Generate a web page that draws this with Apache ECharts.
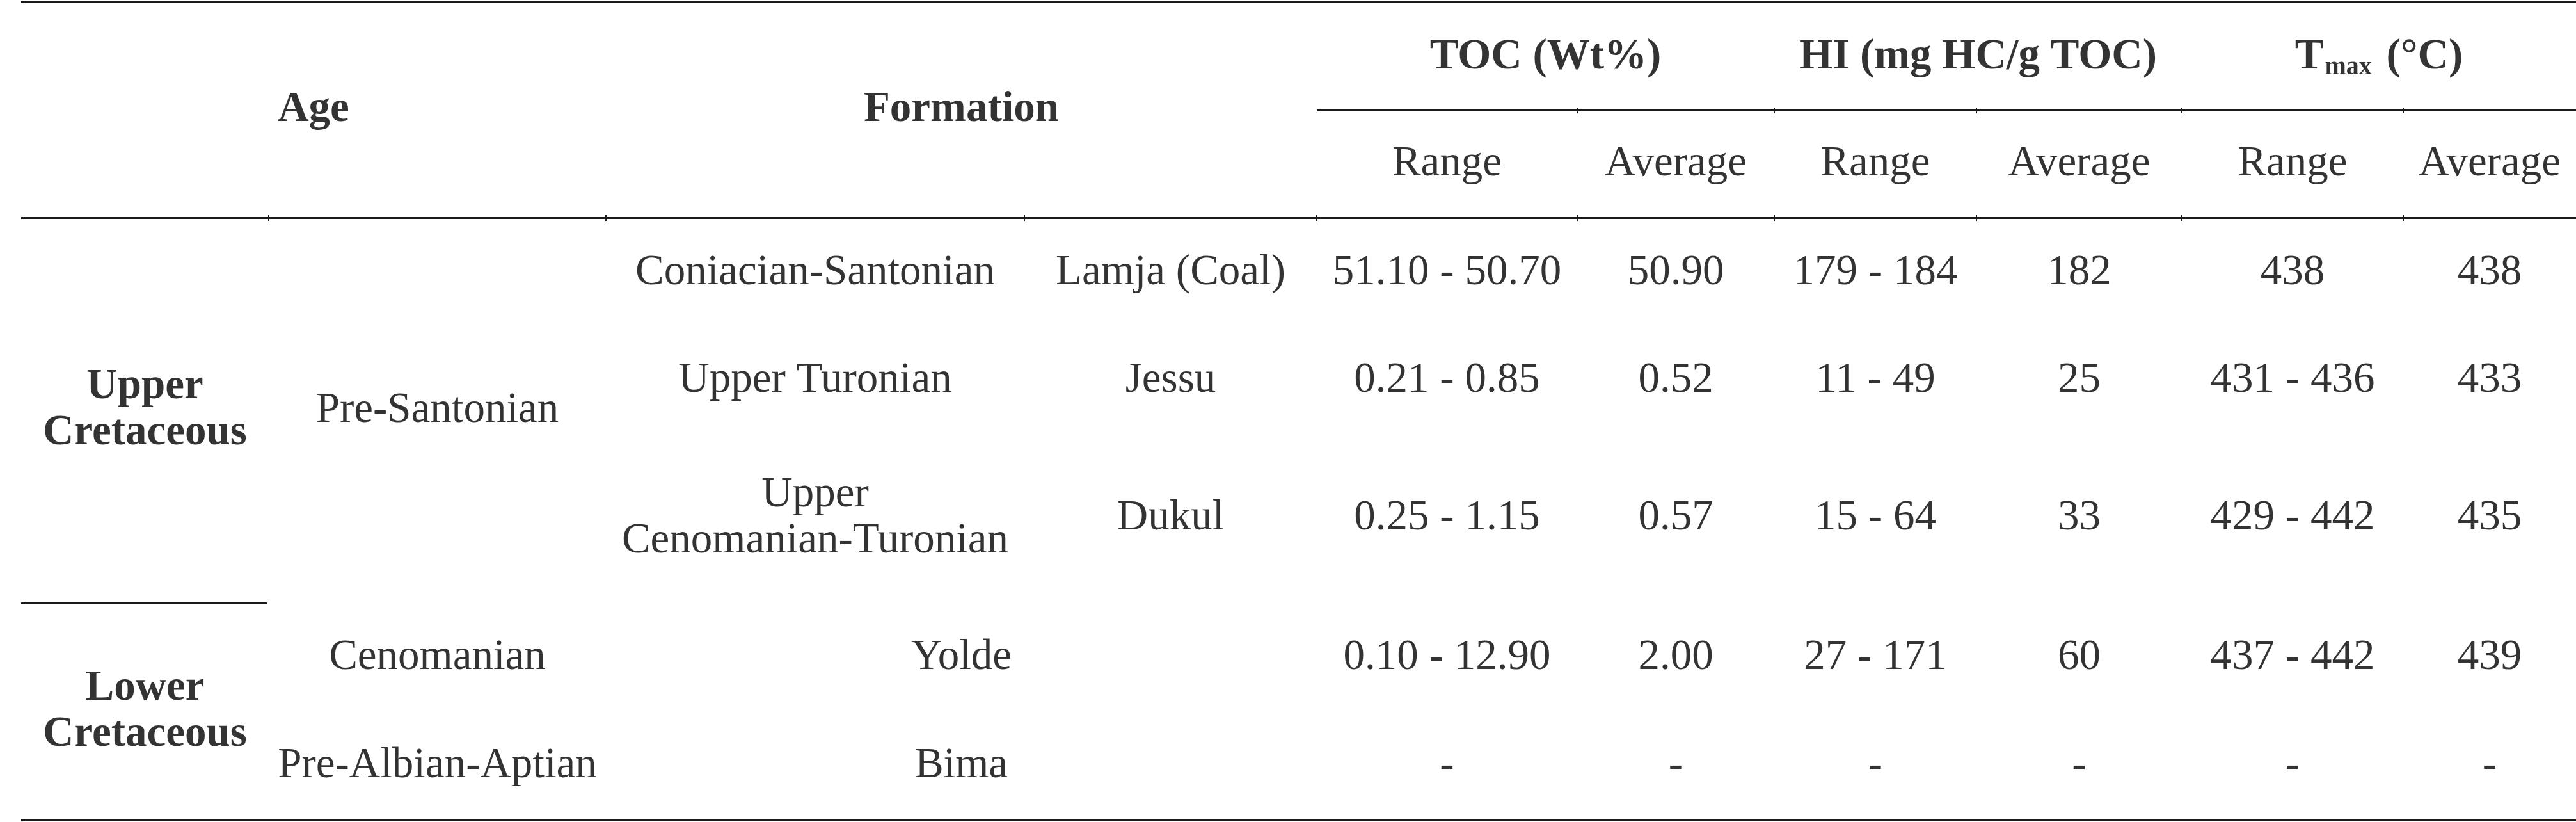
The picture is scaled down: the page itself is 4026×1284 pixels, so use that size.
<!DOCTYPE html>
<html>
<head>
<meta charset="utf-8">
<title>TOC, HI and Tmax by formation</title>
<script src="https://cdn.jsdelivr.net/npm/echarts@6/dist/echarts.min.js"></script>
<style>
    html, body { margin: 0; padding: 0; background: #fff; }
    #main { width: 4026px; height: 1284px; }
</style>
</head>
<body>
<div id="main"></div>
<script>
// table content
var ageLabels = ['Upper\nCretaceous', 'Lower\nCretaceous'];
var periods = ['Pre-Santonian', 'Cenomanian', 'Pre-Albian-Aptian'];
var stages = ['Coniacian-Santonian', 'Upper Turonian', 'Upper\nCenomanian-Turonian'];
var formations = ['Lamja (Coal)', 'Jessu', 'Dukul', 'Yolde', 'Bima'];
var tocRange = ['51.10 - 50.70', '0.21 - 0.85', '0.25 - 1.15', '0.10 - 12.90', '-'];
var tocAvg = ['50.90', '0.52', '0.57', '2.00', '-'];
var hiRange = ['179 - 184', '11 - 49', '15 - 64', '27 - 171', '-'];
var hiAvg = ['182', '25', '33', '60', '-'];
var tmaxRange = ['438', '431 - 436', '429 - 442', '437 - 442', '-'];
var tmaxAvg = ['438', '433', '435', '439', '-'];
var mainHeaders = ['Age', 'Formation'];
var groupHeaders = ['TOC (Wt%)', 'HI (mg HC/g TOC)', 'Tmax'];
var subHeaders = ['Range', 'Average'];

// layout (pixels of the page)
var W = 4026, H = 1284;
var colEdges = [33, 420, 947, 1601, 2058, 2465, 2773, 3089, 3410, 3756, 4026];
var rowEdges = [340, 512, 677, 942, 1112, 1281];
var topY = 3, midY = 172, headY = 340, sepY = 942, bottomY = 1281;

var fontFamily = "'Liberation Serif', 'Times New Roman', 'DejaVu Serif', serif";
var fontSize = 67;

function colMid(a, b) { return (colEdges[a] + colEdges[b + 1]) / 2; }
function rowMid(a, b) { return (rowEdges[a] + rowEdges[b + 1]) / 2; }

function cell(text, x, y, bold) {
    return {
        value: [x, y],
        name: text,
        label: { fontWeight: bold ? 'bold' : 'normal' }
    };
}

var cells = [];
// header
cells.push(cell(mainHeaders[0], colMid(0, 1), (topY + headY) / 2, true));
cells.push(cell(mainHeaders[1], colMid(2, 3), (topY + headY) / 2, true));
for (var g = 0; g < groupHeaders.length; g++) {
    var c0 = 4 + g * 2;
    var item = cell(groupHeaders[g], colMid(c0, c0 + 1), (topY + midY) / 2 + 2, true);
    if (g === 2) {
        item.label.formatter = '{t|T}{s|max}{t| (°C)}';
    }
    cells.push(item);
    for (var s = 0; s < subHeaders.length; s++) {
        cells.push(cell(subHeaders[s], colMid(c0 + s, c0 + s), (midY + headY) / 2, false));
    }
}
// age column
cells.push(cell(ageLabels[0], colMid(0, 0), rowMid(0, 2), true));
cells.push(cell(ageLabels[1], colMid(0, 0), rowMid(3, 4), true));
// period column
cells.push(cell(periods[0], colMid(1, 1), rowMid(0, 2), false));
cells.push(cell(periods[1], colMid(1, 1), rowMid(3, 3), false));
cells.push(cell(periods[2], colMid(1, 1), rowMid(4, 4), false));
// stages and formations
for (var i = 0; i < stages.length; i++) {
    cells.push(cell(stages[i], colMid(2, 2), rowMid(i, i), false));
}
for (var j = 0; j < formations.length; j++) {
    var fx = j < 3 ? colMid(3, 3) : colMid(2, 3);
    cells.push(cell(formations[j], fx, rowMid(j, j), false));
}
// values
var valueCols = [tocRange, tocAvg, hiRange, hiAvg, tmaxRange, tmaxAvg];
for (var k = 0; k < valueCols.length; k++) {
    for (var r = 0; r < valueCols[k].length; r++) {
        cells.push(cell(valueCols[k][r], colMid(4 + k, 4 + k), rowMid(r, r), false));
    }
}

// rules
function hRule(x1, x2, y, w) {
    return [{ coord: [x1, y], lineStyle: { width: w } }, { coord: [x2, y] }];
}
function tick(x, y) {
    return [{ coord: [x, y - 4], lineStyle: { width: 2 } }, { coord: [x, y + 5] }];
}
var rules = [
    hRule(colEdges[0], W, topY, 4),
    hRule(colEdges[4], W, midY, 3),
    hRule(colEdges[0], W, headY, 3),
    hRule(colEdges[0], colEdges[1] - 3, sepY, 3),
    hRule(colEdges[0], W, bottomY, 3)
];
for (var e = 1; e < colEdges.length - 1; e++) {
    rules.push(tick(colEdges[e], headY));
    rules.push(tick(colEdges[e], bottomY));
    if (e > 4) rules.push(tick(colEdges[e], midY));
}

var myChart = echarts.init(document.getElementById('main'));
var option = {
    backgroundColor: '#ffffff',
    animation: false,
    grid: { left: 0, right: 0, top: 0, bottom: 0 },
    xAxis: { type: 'value', min: 0, max: W, show: false },
    yAxis: { type: 'value', min: 0, max: H, inverse: true, show: false },
    series: [
        {
            type: 'scatter',
            silent: true,
            symbolSize: 1,
            itemStyle: { color: 'rgba(0,0,0,0)' },
            label: {
                show: true,
                position: 'inside',
                formatter: '{b}',
                color: '#000',
                fontFamily: fontFamily,
                fontSize: fontSize,
                lineHeight: 72,
                rich: {
                    t: { fontFamily: fontFamily, fontSize: fontSize, fontWeight: 'bold', color: '#000', lineHeight: 72 },
                    s: { fontFamily: fontFamily, fontSize: 40, fontWeight: 'bold', color: '#000', lineHeight: 72, verticalAlign: 'bottom', padding: [0, 6, 0, 2] }
                }
            },
            data: cells,
            markLine: {
                silent: true,
                symbol: ['none', 'none'],
                label: { show: false },
                lineStyle: { color: '#1a1a1a', type: 'solid' },
                data: rules
            }
        }
    ]
};

option && myChart.setOption(option);
</script>
</body>
</html>
